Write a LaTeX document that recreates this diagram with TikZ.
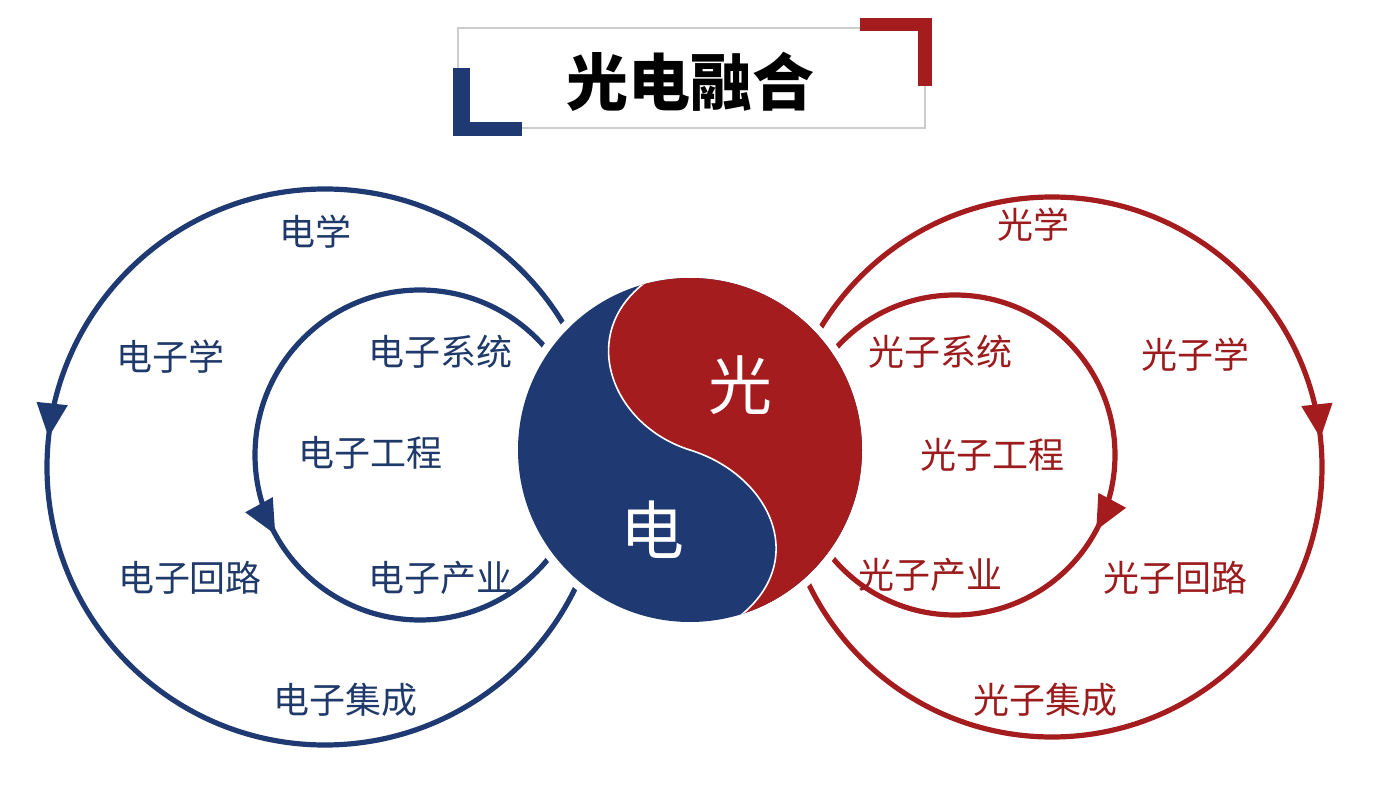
\documentclass[tikz,border=0pt]{standalone}
\usepackage{fontspec}
\setmainfont{Noto Sans CJK SC}
\usetikzlibrary{arrows.meta,decorations.markings}
\definecolor{eblue}{HTML}{1F3A73}
\definecolor{ered}{HTML}{A51C1E}
\definecolor{tblue}{HTML}{1F3A6A}
\definecolor{tred}{HTML}{9C1C1E}
\tikzset{
  bl/.style={text=tblue,font=\fontsize{18}{20}\selectfont},
  rl/.style={text=tred,font=\fontsize{18}{20}\selectfont},
  ring/.style={line width=2.6pt},
}
\begin{document}
\begin{tikzpicture}[x=0.5pt,y=-0.5pt]
\useasboundingbox[fill=white] (0,0) rectangle (1378,802);
% title
\draw[gray!40,line width=0.8pt] (458,28) rectangle (925,128);
\fill[eblue] (453,68) rectangle (470,136);
\fill[eblue] (453,122) rectangle (522,136);
\fill[ered] (860,18) rectangle (932,31);
\fill[ered] (918,18) rectangle (932,86);
\node[font=\bfseries\fontsize{31}{34}\selectfont] (title) at (690,82) {光电融合};
% rings
\coordinate (bo) at (325,467);
\coordinate (bi) at (420,455);
\coordinate (ro) at (1052,467);
\coordinate (ri) at (955,455);
\draw[ring,eblue,postaction={decorate},decoration={markings,mark=at position 0.233 with {\arrow{Triangle[length=17pt,width=15pt]}}}]
  (bo) ++(90:139pt) arc[start angle=90,end angle=450,radius=139pt];
\draw[ring,eblue,postaction={decorate},decoration={markings,mark=at position 0.33 with {\arrow{Triangle[length=17pt,width=15pt]}}}]
  (bi) ++(90:82.5pt) arc[start angle=90,end angle=450,radius=82.5pt];
\draw[ring,ered,postaction={decorate},decoration={markings,mark=at position 0.233 with {\arrow{Triangle[length=17pt,width=15pt]}}}]
  (ro) ++(90:135pt) arc[start angle=90,end angle=-270,radius=135pt];
\draw[ring,ered,postaction={decorate},decoration={markings,mark=at position 0.328 with {\arrow{Triangle[length=17pt,width=15pt]}}}]
  (ri) ++(90:80pt) arc[start angle=90,end angle=-270,radius=80pt];
% yin-yang
\coordinate (yy) at (690,450);
\fill[white] (yy) circle[radius=90pt];
\fill[eblue] (yy) circle[radius=86pt];
\begin{scope}
  \clip (yy) circle[radius=86pt];
  \fill[ered] (650,279) -- (650,200) -- (900,200) -- (900,700) -- (740,700) -- (740,616)
     .. controls (810,560) and (770,475) .. (690,450)
     .. controls (610,425) and (575,330) .. (650,279);
  \draw[white,line width=0.8pt] (740,616)
     .. controls (810,560) and (770,475) .. (690,450)
     .. controls (610,425) and (575,330) .. (650,279);
\end{scope}
\node[text=white,font=\fontsize{32}{34}\selectfont] (guang) at (740,385) {光};
\node[text=white,font=\fontsize{32}{34}\selectfont] (dian) at (652,530) {电};
% labels
\node[bl] (b1) at (315,232) {电学};
\node[bl] (b2) at (170,357) {电子学};
\node[bl] (b3) at (190,578) {电子回路};
\node[bl] (b4) at (345,700) {电子集成};
\node[bl] (b5) at (440,352) {电子系统};
\node[bl] (b6) at (370,453) {电子工程};
\node[bl] (b7) at (440,578) {电子产业};
\node[rl] (r1) at (1033,225) {光学};
\node[rl] (r2) at (1195,355) {光子学};
\node[rl] (r3) at (1175,578) {光子回路};
\node[rl] (r4) at (1045,700) {光子集成};
\node[rl] (r5) at (940,352) {光子系统};
\node[rl] (r6) at (992,455) {光子工程};
\node[rl] (r7) at (930,575) {光子产业};
\end{tikzpicture}
\end{document}
